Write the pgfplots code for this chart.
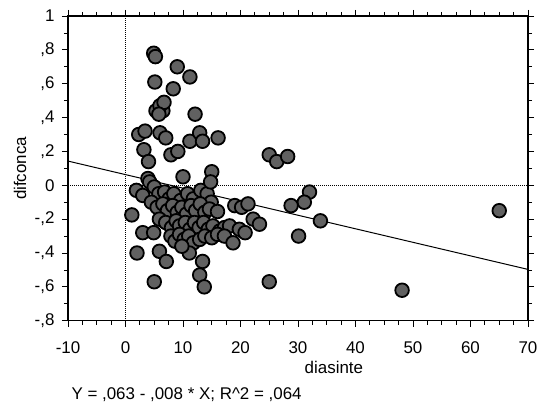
\documentclass[border=0pt]{standalone}
\usepackage{pgfplots}
\pgfplotsset{compat=1.18}
\usepackage{fontspec}
\setmainfont{Liberation Sans}

% difconca vs diasinte
\pgfplotstableread{
x y
4.9 0.78
5.2 0.76
9.0 0.70
11.2 0.64
5.1 0.61
8.3 0.57
5.3 0.44
6.5 0.44
6.0 0.47
6.7 0.49
5.8 0.42
12.1 0.42
2.3 0.30
3.4 0.32
6.0 0.31
7.0 0.28
11.2 0.26
12.9 0.31
13.4 0.26
16.1 0.28
3.2 0.21
4.0 0.14
7.9 0.18
9.1 0.20
25.0 0.18
26.3 0.14
28.2 0.17
3.9 0.04
1.9 -0.03
3.0 -0.06
4.2 0.02
5.0 -0.01
5.8 -0.05
6.8 -0.04
7.6 -0.08
8.4 -0.05
10.0 0.05
9.6 -0.09
10.8 -0.05
11.8 -0.08
13.1 -0.03
14.2 -0.05
15.0 0.08
14.8 0.02
14.9 -0.10
4.5 -0.10
5.5 -0.13
6.5 -0.11
7.3 -0.15
8.2 -0.12
9.0 -0.16
9.8 -0.13
10.6 -0.17
11.4 -0.12
12.2 -0.15
13.0 -0.11
13.8 -0.16
14.6 -0.14
16.0 -0.155
5.9 -0.20
7.0 -0.22
8.0 -0.25
8.8 -0.21
9.4 -0.24
10.4 -0.22
11.2 -0.26
12.0 -0.22
12.8 -0.25
13.6 -0.22
14.4 -0.26
15.2 -0.24
16.4 -0.27
17.2 -0.25
18.1 -0.24
19.8 -0.26
20.8 -0.28
22.2 -0.20
23.3 -0.23
19.0 -0.12
20.2 -0.13
21.3 -0.11
7.9 -0.30
8.6 -0.33
9.4 -0.29
10.2 -0.32
11.0 -0.30
11.8 -0.34
12.9 -0.32
13.8 -0.30
15.0 -0.31
16.0 -0.29
17.2 -0.30
18.7 -0.34
11.1 -0.40
9.8 -0.36
1.1 -0.175
3.0 -0.28
4.9 -0.28
2.0 -0.40
5.9 -0.39
7.1 -0.45
5.0 -0.57
13.4 -0.45
12.9 -0.53
13.7 -0.60
25.0 -0.57
32.0 -0.04
31.1 -0.10
28.8 -0.12
33.9 -0.21
30.1 -0.30
48.1 -0.62
65.0 -0.15
}\pts

\begin{document}
\begin{tikzpicture}
\begin{axis}[
  scale only axis, width=460bp, height=304.7bp,
  xmin=-10, xmax=70, ymin=-0.8, ymax=1,
  xtick={-10,0,...,70},
  xticklabels={-10,0,10,20,30,40,50,60,70},
  ytick={-0.8,-0.6,...,1.0},
  yticklabels={{-,8},{-,6},{-,4},{-,2},0,{,2},{,4},{,6},{,8},1},
  minor x tick num=3, minor y tick num=1,
  tick align=outside,
  major tick length=6bp, minor tick length=4bp,
  every tick/.style={black, line width=0.8bp},
  axis line style={line width=1.1bp},
  ticklabel style={font=\fontsize{17}{18}\selectfont},
  xticklabel style={yshift=-11bp},
  yticklabel style={xshift=-4bp},
  xlabel={diasinte}, ylabel={difconca},
  label style={font=\fontsize{17}{18}\selectfont},
  xlabel style={at={(axis description cs:0.578,-0.152)}, anchor=center},
  ylabel style={at={(axis description cs:-0.104,0.5)}, anchor=center},
  clip=false,
]
\addplot[black, dash pattern=on 1.2bp off 0.8bp, line width=1.2bp] coordinates {(0,-0.8) (0,1)};
\addplot[black, dash pattern=on 1.2bp off 0.8bp, line width=1.2bp] coordinates {(-10,0) (70,0)};
\addplot[black, line width=1bp] coordinates {(-10,0.143) (70,-0.497)};
\addplot[only marks, mark=*, mark size=6.8bp,
  mark options={fill=black!62, draw=black, line width=1.8bp}] table {\pts};
\end{axis}
\node[anchor=west, font=\fontsize{17}{18}\selectfont] at (0bp,-73.5bp)
  {Y = ,063 - ,008 * X; R\textasciicircum 2 = ,064};
\pgfresetboundingbox
\path (-68bp,-83.3bp) rectangle (471bp,320.7bp);
\end{tikzpicture}
\end{document}
